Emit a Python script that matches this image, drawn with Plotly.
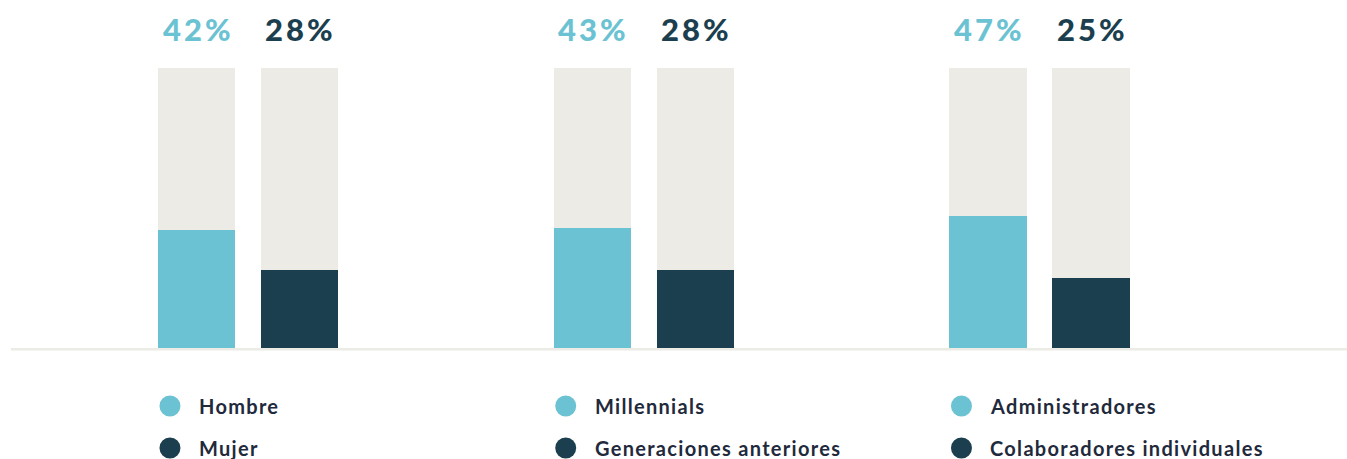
import plotly.graph_objects as go

# ---- data ----
series_a_labels = ["Hombre", "Millennials", "Administradores"]
series_b_labels = ["Mujer", "Generaciones anteriores", "Colaboradores individuales"]
series_a_values = [42, 43, 47]
series_b_values = [28, 28, 25]
full_scale = 100

# ---- style ----
LIGHT = "#6bc2d2"
DARK = "#1b3f4f"
TRACK = "#edebe6"
TEXT = "#1f2a3c"
FONT = "Lato"

W, H = 1347, 459
unit_px = 395.75          # pixels per group
first_center_px = 248
offset = 0.13             # bar offset from group center
bar_w = 0.195
base_px, top_px = 348, 68
px_per_val = (base_px - top_px) / full_scale

x0 = -first_center_px / unit_px
x1 = x0 + W / unit_px
y_top = base_px / px_per_val
y_bot = -(H - base_px) / px_per_val

n = len(series_a_values)
xa = [g - offset for g in range(n)]
xb = [g + offset for g in range(n)]

fig = go.Figure()
fig.add_trace(go.Bar(x=xa + xb, y=[full_scale] * (2 * n), width=bar_w,
                     marker=dict(color=TRACK, line=dict(width=0)),
                     hoverinfo="skip", showlegend=False))
fig.add_trace(go.Bar(x=xa, y=series_a_values, width=bar_w, name="A",
                     marker=dict(color=LIGHT, line=dict(width=0)), showlegend=False))
fig.add_trace(go.Bar(x=xb, y=series_b_values, width=bar_w, name="B",
                     marker=dict(color=DARK, line=dict(width=0)), showlegend=False))

annotations = []
shapes = []
for i in range(n):
    for xv, val, col in ((xa[i], series_a_values[i], LIGHT), (xb[i], series_b_values[i], DARK)):
        annotations.append(dict(x=xv, y=full_scale, xref="x", yref="y",
                                text=f"<span style='letter-spacing:3px'>{val}%</span>",
                                showarrow=False,
                                yanchor="middle", yshift=39, xshift=1.5,
                                font=dict(family=FONT, size=31, color=col, weight=900)))
    left = xa[i] - bar_w / 2
    for row, (lab, col) in enumerate(((series_a_labels[i], LIGHT), (series_b_labels[i], DARK))):
        cy = base_px + 58 + row * 42
        yv = (base_px - cy) / px_per_val
        shapes.append(dict(type="circle", xref="x", yref="y", xsizemode="pixel", ysizemode="pixel",
                           xanchor=left, yanchor=yv, x0=12 - 10.5, x1=12 + 10.5,
                           y0=-10.5, y1=10.5, fillcolor=col, line=dict(width=0)))
        annotations.append(dict(x=left, y=yv, xref="x", yref="y",
                                text=f"<span style='letter-spacing:1.3px'><b>{lab}</b></span>",
                                showarrow=False, xanchor="left", yanchor="middle",
                                xshift=39, font=dict(family=FONT, size=20, color=TEXT)))

shapes.append(dict(type="line", xref="paper", yref="y", x0=11 / W, x1=1,
                   y0=-0.45, y1=-0.45, line=dict(color="#ecebe5", width=2.5), layer="below"))

fig.update_layout(
    width=W, height=H, margin=dict(l=0, r=0, t=0, b=0),
    paper_bgcolor="white", plot_bgcolor="white",
    barmode="overlay", bargap=0,
    xaxis=dict(range=[x0, x1], visible=False, fixedrange=True),
    yaxis=dict(range=[y_bot, y_top], visible=False, fixedrange=True),
    annotations=annotations, shapes=shapes, showlegend=False,
    font=dict(family=FONT),
)

fig.write_html("out.html")
